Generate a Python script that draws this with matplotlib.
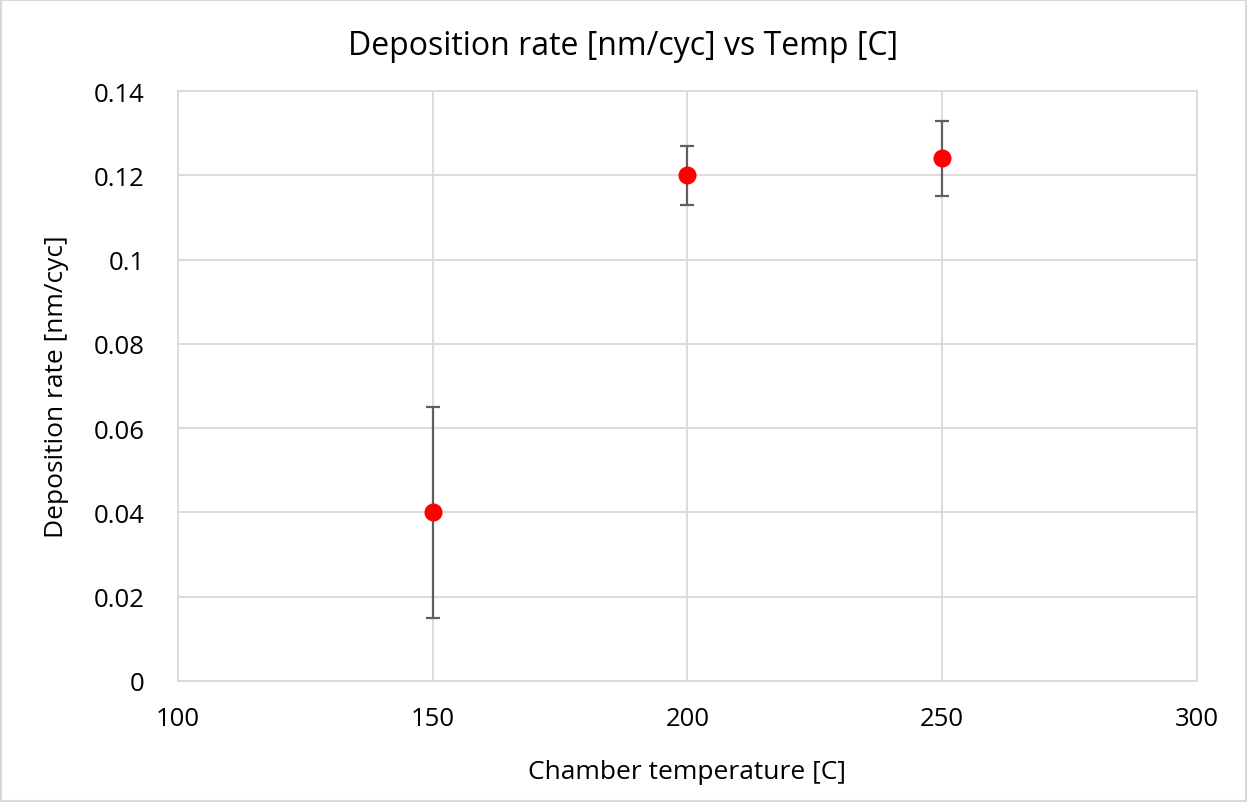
import matplotlib
matplotlib.use("Agg")
from matplotlib import pyplot as plt
from matplotlib.patches import Rectangle

# data
temps = [150, 200, 250]
rates = [0.040, 0.120, 0.124]
err_low = [0.025, 0.007, 0.009]
err_high = [0.025, 0.007, 0.009]

plt.rcParams['font.family'] = ['Open Sans', 'DejaVu Sans']

fig = plt.figure(figsize=(12.47, 8.03), dpi=100)
ax = fig.add_axes([0.1427, 0.1507, 0.8172, 0.7347])

ax.errorbar(temps, rates, yerr=[err_low, err_high], fmt='none',
            ecolor='#5f5f5f', elinewidth=1.6, capsize=5, capthick=1.6, zorder=3)
ax.plot(temps, rates, 'o', color='#ff0000', markersize=12, zorder=4)

ax.set_xlim(100, 300)
ax.set_ylim(0, 0.14)
ax.set_xticks([100, 150, 200, 250, 300])
ax.set_yticks([0, 0.02, 0.04, 0.06, 0.08, 0.1, 0.12, 0.14])
ax.set_yticklabels(['0', '0.02', '0.04', '0.06', '0.08', '0.1', '0.12', '0.14'])
ax.grid(True, color='#d9d9d9', linewidth=1.3)
ax.set_axisbelow(True)
for s in ax.spines.values():
    s.set_color('#d9d9d9')
    s.set_linewidth(1.3)
ax.tick_params(axis='x', length=0, labelsize=18.5, pad=18)
ax.tick_params(axis='y', length=0, labelsize=18.5, pad=24)

# title is centred on the whole figure
fig.text(0.5, 0.942, 'Deposition rate [nm/cyc] vs Temp [C]', fontsize=23,
         ha='center', va='center')
ax.set_xlabel('Chamber temperature [C]', fontsize=19, labelpad=20)
ax.set_ylabel('Deposition rate [nm/cyc]', fontsize=19, labelpad=18)

fig.patches.append(Rectangle((0.001, 0.001), 0.998, 0.998, transform=fig.transFigure,
                             fill=False, edgecolor='#d9d9d9', linewidth=1.5))

fig.savefig('out.png', dpi=100)
